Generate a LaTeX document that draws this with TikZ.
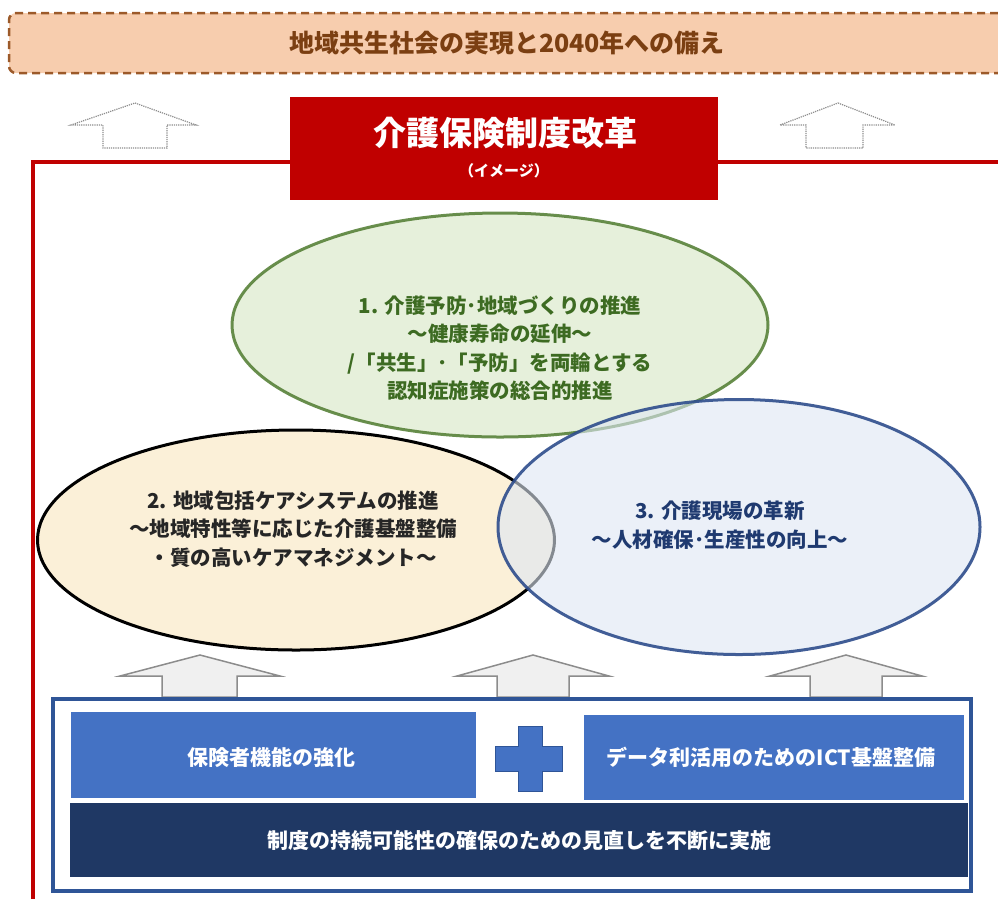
\documentclass[tikz,border=0pt]{standalone}
\usepackage{fontspec}
\setmainfont{Noto Sans CJK JP}
\usetikzlibrary{shapes.geometric}
\definecolor{peach}{HTML}{F7CDAE}
\definecolor{peachline}{HTML}{9C5A2A}
\definecolor{peachtext}{HTML}{7B3F12}
\definecolor{myred}{HTML}{C00000}
\definecolor{greenfill}{HTML}{D6E6C3}
\definecolor{greenline}{HTML}{4F7B2F}
\definecolor{greentext}{HTML}{3D6B22}
\definecolor{yelfill}{HTML}{FBF0D8}
\definecolor{bluefill}{HTML}{DDE6F3}
\definecolor{blueline}{HTML}{2E4D8C}
\definecolor{bluetext}{HTML}{1F3A70}
\definecolor{arrfill}{HTML}{F0F0F0}
\definecolor{arrline}{HTML}{8C8C8C}
\definecolor{frameblue}{HTML}{2F5597}
\definecolor{boxblue}{HTML}{4472C4}
\definecolor{navy}{HTML}{1F3864}
\tikzset{
  toparrow/.style={draw=arrline, densely dotted, line width=1.2pt, fill=white},
  botarrow/.style={draw=arrline, line width=1.5pt, fill=arrfill},
  ell/.style={ellipse, inner sep=0pt, line width=3pt},
  elltext/.style={align=center, font=\bfseries\fontsize{20.5}{28.5}\selectfont},
  bluebox/.style={fill=boxblue, inner sep=0pt, text=white, font=\bfseries\fontsize{21}{25}\selectfont},
}
\begin{document}
\begin{tikzpicture}[x=1pt,y=-1pt]
\useasboundingbox (0,0) rectangle (998,898);
% banner
\node[draw=peachline, fill=peach, dashed, dash pattern=on 8pt off 5pt, line width=2.5pt,
  rounded corners=7pt, minimum width=996pt, minimum height=60pt, inner sep=0pt,
  text=peachtext, font=\bfseries\fontsize{25}{28}\selectfont] (banner) at (507,43) {地域共生社会の実現と2040年への備え};
% top hollow arrows
\draw[toparrow] (135,103) -- (196,125) -- (167,125) -- (167,148) -- (103,148) -- (103,125) -- (71,125) -- cycle;
\draw[toparrow] (838,103) -- (895,125) -- (863,125) -- (863,148) -- (806,148) -- (806,125) -- (780,125) -- cycle;
% red frame
\draw[myred, line width=4.5pt] (33,900) -- (33,162) -- (1002,162);
% title box
\node[fill=myred, minimum width=428pt, minimum height=103pt, inner sep=0pt] (title) at (504,148.5) {};
\node[text=white, font=\bfseries\fontsize{33}{36}\selectfont] (titletext) at (505,133) {介護保険制度改革};
\node[text=white, font=\bfseries\fontsize{15}{18}\selectfont] (titlesub) at (504,171) {（イメージ）};
% ellipses
\node[ell, draw=black, fill=yelfill, minimum width=517pt, minimum height=220pt] (e2) at (296,540) {};
\node[ell, draw=greenline, fill=greenfill, fill opacity=0.6, draw opacity=0.85, minimum width=536pt, minimum height=224pt] (e1) at (500,325) {};
\node[ell, draw=blueline, fill=bluefill, fill opacity=0.6, draw opacity=0.9, minimum width=482pt, minimum height=255pt] (e3) at (739,527) {};
% ellipse texts
\node[elltext, text=greentext] (t1) at (500,348) {1. 介護予防･地域づくりの推進\\～健康寿命の延伸～\\/「共生」･「予防」を両輪とする\\認知症施策の総合的推進};
\node[elltext, text=black!85] (t2) at (293,529) {2. 地域包括ケアシステムの推進\\～地域特性等に応じた介護基盤整備\\・質の高いケアマネジメント～};
\node[elltext, text=bluetext] (t3) at (720,525) {3. 介護現場の革新\\～人材確保･生産性の向上～};
% bottom gray arrows
\draw[botarrow] (200,655) -- (280,676) -- (237,676) -- (237,697) -- (162,697) -- (162,676) -- (120,676) -- cycle;
\draw[botarrow] (533,655) -- (609,676) -- (569,676) -- (569,697) -- (497,697) -- (497,676) -- (457,676) -- cycle;
\draw[botarrow] (846,655) -- (922,676) -- (882,676) -- (882,697) -- (810,697) -- (810,676) -- (770,676) -- cycle;
% blue frame
\node[draw=frameblue, line width=4pt, fill=white, minimum width=918pt, minimum height=192pt, inner sep=0pt] (bframe) at (512,795) {};
\node[bluebox, minimum width=405pt, minimum height=86pt] (b1) at (273.5,755) {};
\node[bluebox] (b1t) at (271,757) {保険者機能の強化};
\node[bluebox, minimum width=380pt, minimum height=85pt] (b2) at (774,757) {};
\node[bluebox] (b2t) at (771,757) {データ利活用のためのICT基盤整備};
\node[fill=navy, minimum width=898pt, minimum height=74pt, inner sep=0pt] (b3) at (519,840) {};
\node[text=white, font=\bfseries\fontsize{21}{25}\selectfont] (b3t) at (519,840) {制度の持続可能性の確保のための見直しを不断に実施};
% plus sign
\draw[fill=boxblue, draw=frameblue, line width=1pt] (518,726) -- (542,726) -- (542,746) -- (562,746) -- (562,771) -- (542,771) -- (542,791) -- (518,791) -- (518,771) -- (495,771) -- (495,746) -- (518,746) -- cycle;
\end{tikzpicture}
\end{document}
